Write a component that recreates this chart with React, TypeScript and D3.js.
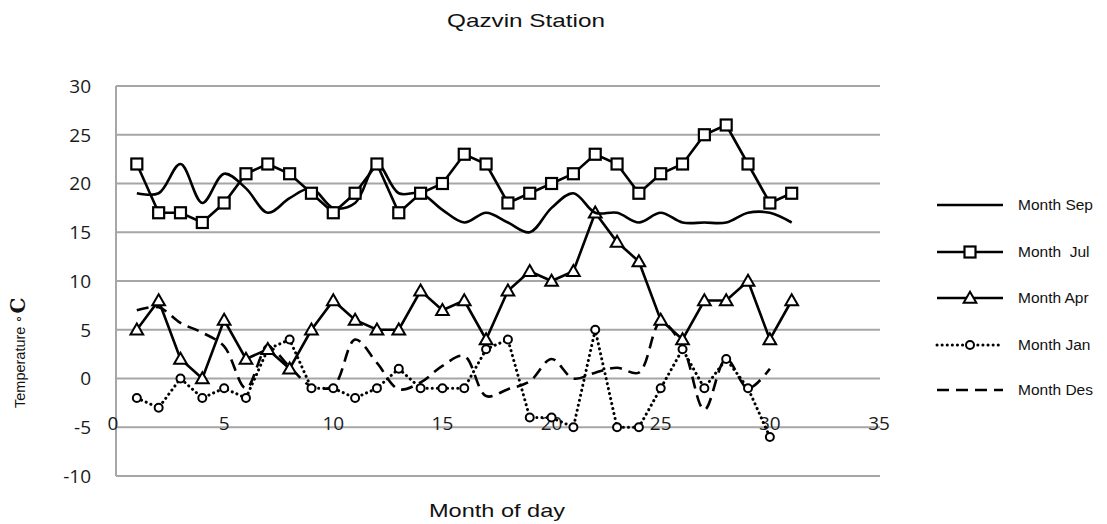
import React from "react";
import * as d3 from "d3";

const days = [1,2,3,4,5,6,7,8,9,10,11,12,13,14,15,16,17,18,19,20,21,22,23,24,25,26,27,28,29,30,31];
const sep = [19, 19, 22, 18, 21, 19.5, 17, 18.5, 19.5, 17.5, 18, 22, 19, 19, 17.3, 16, 17, 16, 15, 17.5, 19, 17, 17, 16, 17, 16, 16, 16, 17, 17, 16];
const jul = [22,17,17,16,18,21,22,21,19,17,19,22,17,19,20,23,22,18,19,20,21,23,22,19,21,22,25,26,22,18,19];
const apr = [5,8,2,0,6,2,3,1,5,8,6,5,5,9,7,8,4,9,11,10,11,17,14,12,6,4,8,8,10,4,8];
const jan = [-2,-3,0,-2,-1,-2,3,4,-1,-1,-2,-1,1,-1,-1,-1,3,4,-4,-4,-5,5,-5,-5,-1,3,-1,2,-1,-6];
const des = [7, 7.3, 5.7, 4.7, 3.3, -1, 3.2, 1.2, -0.8, -0.8, 4, 1.6, -1.1, -0.4, 1.3, 2.3, -1.8, -1.1, -0.3, 2, 0, 0.6, 1.1, 0.6, 5.8, 3.3, -3.2, 2, -1, 1];

const yTicks = [-10, -5, 0, 5, 10, 15, 20, 25, 30];
const xTicks = [0, 5, 10, 15, 20, 25, 30, 35];
const legendLabels = ["Month Sep", "Month  Jul", "Month Apr", "Month Jan", "Month Des"];

const W = 1107, H = 524;
const x = d3.scaleLinear().domain([0, 35]).range([115, 879]);
const y = d3.scaleLinear().domain([-10, 30]).range([476, 86]);

type Pt = [number, number];
const pts = (vals: number[]): Pt[] => vals.map((v, i) => [days[i], v]);

const straight = d3.line<Pt>().x(d => x(d[0])).y(d => y(d[1]));
const smooth = d3.line<Pt>().x(d => x(d[0])).y(d => y(d[1])).curve(d3.curveCatmullRom.alpha(0.5));

const tri = d3.symbol().type(d3.symbolTriangle).size(70)();

function Square({ cx, cy }: { cx: number; cy: number }) {
  return <rect x={cx - 5.5} y={cy - 5.5} width={11} height={11} fill="#fff" stroke="#000" strokeWidth={2.2} />;
}
function Tri({ cx, cy }: { cx: number; cy: number }) {
  return <path d={tri || ""} transform={`translate(${cx},${cy + 1})`} fill="#fff" stroke="#000" strokeWidth={2} />;
}
function Circ({ cx, cy }: { cx: number; cy: number }) {
  return <circle cx={cx} cy={cy} r={4} fill="#fff" stroke="#000" strokeWidth={2} />;
}

export default function App() {
  const tickFont = "'Open Sans', Lato, sans-serif";
  const sans = "'Liberation Sans', Arial, sans-serif";
  const legY = [205, 252, 298, 345, 390];
  const lx1 = 937, lx2 = 1003, lxm = 970;
  return (
    <svg width={W} height={H} style={{ position: "absolute", left: 0, top: 0, background: "#fff" }}>
      <rect width={W} height={H} fill="#fff" />
      <text x={526} y={27} textAnchor="middle" fontFamily={sans} fontSize={19} textLength={158} lengthAdjust="spacingAndGlyphs" fill="#111">Qazvin Station</text>

      {/* gridlines */}
      {yTicks.map(t => (
        <line key={t} x1={116} x2={880} y1={y(t)} y2={y(t)} stroke="#a6a6a6" strokeWidth={2} />
      ))}
      <line x1={116} x2={116} y1={y(30)} y2={y(-10)} stroke="#a6a6a6" strokeWidth={2} />

      {yTicks.map(t => (
        <text key={t} x={91} y={y(t)} dy="0.36em" textAnchor="end" fontFamily={tickFont} fontSize={19} fill="#1a1a1a">{t}</text>
      ))}
      {xTicks.map(t => (
        <text key={t} x={t === 0 ? x(t) - 2 : x(t)} y={y(-5) - 4} dy="0.36em" textAnchor="middle" fontFamily={tickFont} fontSize={19} fill="#1a1a1a">{t}</text>
      ))}

      {/* series */}
      <path d={smooth(pts(des)) || ""} fill="none" stroke="#000" strokeWidth={2.6} strokeDasharray="12 7" />
      <path d={straight(pts(jan)) || ""} fill="none" stroke="#000" strokeWidth={3} strokeDasharray="0.1 5" strokeLinecap="round" />
      {pts(jan).map((p, i) => <Circ key={i} cx={x(p[0])} cy={y(p[1])} />)}
      <path d={straight(pts(apr)) || ""} fill="none" stroke="#000" strokeWidth={2.6} />
      {pts(apr).map((p, i) => <Tri key={i} cx={x(p[0])} cy={y(p[1])} />)}
      <path d={smooth(pts(sep)) || ""} fill="none" stroke="#000" strokeWidth={2.6} />
      <path d={straight(pts(jul)) || ""} fill="none" stroke="#000" strokeWidth={2.6} />
      {pts(jul).map((p, i) => <Square key={i} cx={x(p[0])} cy={y(p[1])} />)}

      {/* axis titles */}
      <text x={497} y={517} textAnchor="middle" fontFamily={sans} fontSize={19} textLength={136} lengthAdjust="spacingAndGlyphs" fill="#111">Month of day</text>
      <text transform="translate(25,408) rotate(-90)" fontFamily={sans} fontSize={14.5} fill="#111">
        <tspan>Temperature </tspan>
        <tspan fontSize={13} dy={-3}>∘</tspan>
        <tspan fontSize={20} fontWeight="bold" dy={3} dx={1} fontFamily="'DejaVu Serif', serif">C</tspan>
      </text>

      {/* legend */}
      {legendLabels.map((lab, i) => (
        <text key={lab} x={1018} y={legY[i]} dy="0.35em" fontFamily={sans} fontSize={15.5} fill="#111" style={{ whiteSpace: "pre" }} xmlSpace="preserve">{lab}</text>
      ))}
      <line x1={lx1} x2={lx2} y1={legY[0]} y2={legY[0]} stroke="#000" strokeWidth={2.6} />
      <line x1={lx1} x2={lx2} y1={legY[1]} y2={legY[1]} stroke="#000" strokeWidth={2.6} />
      <Square cx={lxm} cy={legY[1]} />
      <line x1={lx1} x2={lx2} y1={legY[2]} y2={legY[2]} stroke="#000" strokeWidth={2.6} />
      <Tri cx={lxm} cy={legY[2]} />
      <line x1={lx1} x2={lx2} y1={legY[3]} y2={legY[3]} stroke="#000" strokeWidth={3} strokeDasharray="0.1 5" strokeLinecap="round" />
      <Circ cx={lxm} cy={legY[3]} />
      <line x1={lx1} x2={lx2} y1={legY[4]} y2={legY[4]} stroke="#000" strokeWidth={2.6} strokeDasharray="12 7" />
    </svg>
  );
}
